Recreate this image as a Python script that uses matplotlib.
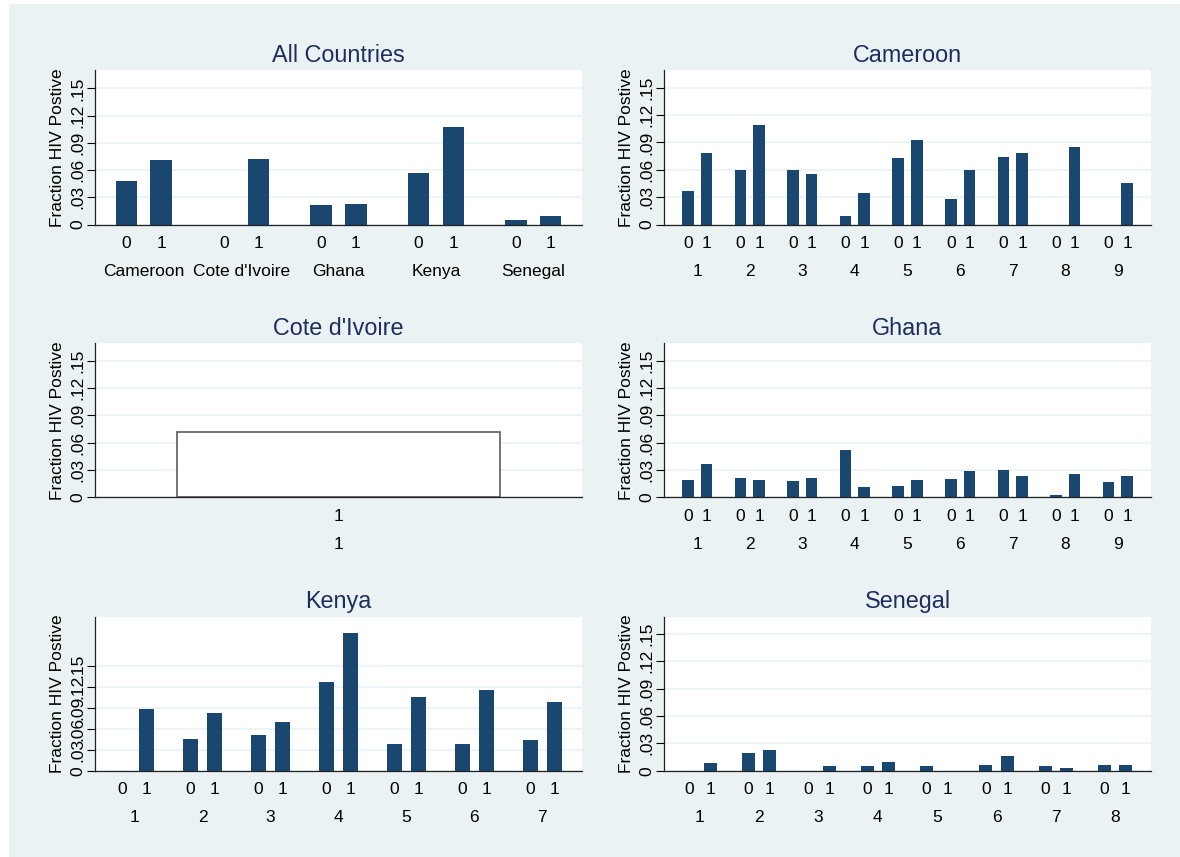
import numpy as np
import matplotlib.pyplot as plt
from matplotlib.patches import Rectangle

plt.rcParams['font.family'] = ['Liberation Sans', 'DejaVu Sans']

# data (fraction HIV positive, for 0 / 1 within each group)
countries = ["Cameroon", "Cote d'Ivoire", "Ghana", "Kenya", "Senegal"]
all_0 = [0.048, np.nan, 0.021, 0.057, 0.005]
all_1 = [0.071, 0.072, 0.023, 0.108, 0.009]

cameroon_groups = ["1", "2", "3", "4", "5", "6", "7", "8", "9"]
cameroon_0 = [0.0367, 0.0601, 0.0601, 0.0095, 0.0730, 0.0282, 0.0741, np.nan, np.nan]
cameroon_1 = [0.0785, 0.1089, 0.0550, 0.0345, 0.0928, 0.0601, 0.0785, 0.0851, 0.0455]

civ_groups = ["1"]
civ_1 = [0.072]

ghana_groups = ["1", "2", "3", "4", "5", "6", "7", "8", "9"]
ghana_0 = [0.0193, 0.0212, 0.0182, 0.0518, 0.0128, 0.0197, 0.0299, 0.0029, 0.0164]
ghana_1 = [0.0369, 0.0190, 0.0212, 0.0110, 0.0190, 0.0292, 0.0237, 0.0252, 0.0230]

kenya_groups = ["1", "2", "3", "4", "5", "6", "7"]
kenya_0 = [np.nan, 0.0449, 0.0516, 0.1270, 0.0382, 0.0382, 0.0435]
kenya_1 = [0.0889, 0.0822, 0.0697, 0.1968, 0.1056, 0.1151, 0.0989]

senegal_groups = ["1", "2", "3", "4", "5", "6", "7", "8"]
senegal_0 = [np.nan, 0.0197, np.nan, 0.0051, 0.0047, 0.0062, 0.0051, 0.0062]
senegal_1 = [0.0080, 0.0223, 0.0047, 0.0095, np.nan, 0.0161, 0.0029, 0.0062]

yticks = [0, 0.03, 0.06, 0.09, 0.12, 0.15]
ytick_labels = ["0", ".03", ".06", ".09", ".12", ".15"]

navy = "#1a476f"
bg = "#eaf2f3"
title_col = "#1f2d5c"

W, H = 1180, 857
fig = plt.figure(figsize=(W / 100, H / 100), dpi=100)
fig.add_artist(Rectangle((9 / W, 0), 1, 1 - 4 / H, transform=fig.transFigure,
                         facecolor=bg, edgecolor="none", zorder=-10))

lefts = [95, 664]
tops = [70.5, 343.3, 616.7]
aw, ah = 487, 154

off, bw = 0.178, 0.22


def panel(col, row, title, groups, v0, v1, ymax, pad, hollow=False):
    ax = fig.add_axes([lefts[col] / W, 1 - (tops[row] + ah) / H, aw / W, ah / H])
    ax.set_facecolor("white")
    n = len(groups)
    x = np.arange(n)
    if hollow:
        ax.bar(x, v1, width=0.665, facecolor="white", edgecolor="#5b5b5b", linewidth=1.2)
        ticks, labels = list(x), ["1"]
    else:
        ax.bar(x - off, v0, width=bw, color=navy)
        ax.bar(x + off, v1, width=bw, color=navy)
        ticks = list(x - off) + list(x + off)
        labels = ["0"] * n + ["1"] * n
    ax.set_xlim(-pad, n - 1 + pad)
    ax.set_ylim(0, ymax)
    ax.xaxis.remove_overlapping_locs = False
    ax.set_xticks(ticks)
    ax.set_xticklabels(labels)
    ax.set_xticks(x, minor=True)
    ax.set_xticklabels(groups, minor=True)
    ax.tick_params(axis="x", which="major", length=0, pad=8.2, labelsize=12.5)
    ax.tick_params(axis="x", which="minor", length=0, pad=28.6, labelsize=12.5)
    ax.set_yticks(yticks)
    ax.set_yticklabels(ytick_labels, rotation=90, va="center")
    ax.tick_params(axis="y", length=5.5, width=0.8, pad=1.5, labelsize=12.5)
    ax.yaxis.grid(True, color=bg, linewidth=1.2)
    ax.set_axisbelow(True)
    for s in ["top", "right"]:
        ax.spines[s].set_visible(False)
    for s in ["left", "bottom"]:
        ax.spines[s].set_linewidth(0.9)
        ax.spines[s].set_color("#222222")
    ax.set_ylabel("Fraction HIV Postive", fontsize=12.5)
    ax.yaxis.set_label_coords(-29.7 / aw, 0.5)
    ax.set_title(title, color=title_col, fontsize=16.8, pad=6)
    return ax


panel(0, 0, "All Countries", countries, all_0, all_1, 0.1698, 0.5)
panel(1, 0, "Cameroon", cameroon_groups, cameroon_0, cameroon_1, 0.169, 0.63)
panel(0, 1, "Cote d'Ivoire", civ_groups, None, civ_1, 0.169, 0.5, hollow=True)
panel(1, 1, "Ghana", ghana_groups, ghana_0, ghana_1, 0.169, 0.63)
panel(0, 2, "Kenya", kenya_groups, kenya_0, kenya_1, 0.2202, 0.585)
panel(1, 2, "Senegal", senegal_groups, senegal_0, senegal_1, 0.169, 0.605)

fig.savefig("out.png", dpi=100)
